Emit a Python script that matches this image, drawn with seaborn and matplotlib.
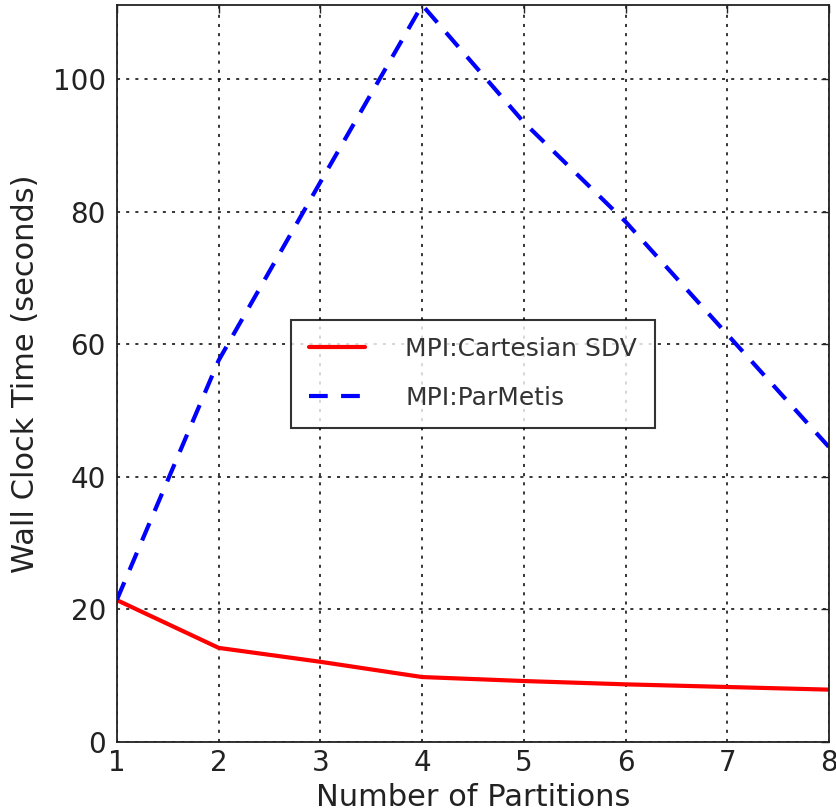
import numpy as np
import pandas as pd
import seaborn as sns
import matplotlib
matplotlib.use('Agg')
import matplotlib.pyplot as plt

# data
partitions = [1, 2, 3, 4, 5, 6, 7, 8]
cartesian_sdv = [21.4, 14.2, 12.1, 9.8, 9.2, 8.7, 8.3, 7.9]
parmetis = [21.5, 57.6, 84.5, 111.2, 93.5, 78.5, 61.5, 44.5]
series_names = ['MPI:Cartesian SDV', 'MPI:ParMetis']

df = pd.DataFrame({
    'partitions': partitions * 2,
    'time': cartesian_sdv + parmetis,
    'method': [series_names[0]] * len(partitions) + [series_names[1]] * len(partitions),
})

sns.set_style('white')
plt.rcParams['font.family'] = ['DejaVu Sans']

fig = plt.figure(figsize=(8.36, 8.11), dpi=100)
ax = fig.add_axes([117 / 836, 1 - 742 / 811, 712 / 836, 737 / 811])

sns.lineplot(data=df, x='partitions', y='time', hue='method', style='method',
             palette={series_names[0]: '#ff0000', series_names[1]: '#0000ff'},
             dashes={series_names[0]: '', series_names[1]: (4.5, 3.2)},
             linewidth=3, ax=ax)

ax.set_xlim(1, 8)
ax.set_ylim(0, max(parmetis))
ax.set_yticks([0, 20, 40, 60, 80, 100])
ax.set_xticks(partitions)
ax.grid(True, color='black', linestyle=(0, (2, 4)), linewidth=1.1)
ax.tick_params(direction='in', top=True, right=True, length=6, width=1,
               labelsize=20, colors='#222222')
ax.tick_params(axis='x', pad=5)
ax.tick_params(axis='y', pad=8)
for s in ax.spines.values():
    s.set_color('#222222')
    s.set_linewidth(1.3)

ax.set_xlabel('Number of Partitions', fontsize=22, color='#222222', labelpad=4)
ax.set_ylabel('Wall Clock Time (seconds)', fontsize=22, color='#222222', labelpad=9)

leg = ax.legend(loc='center', fontsize=18, frameon=True, fancybox=False,
                handlelength=2.25, handletextpad=1.6, borderpad=0.7,
                labelspacing=1.0, borderaxespad=0)
leg.get_frame().set_edgecolor('black')
leg.get_frame().set_linewidth(1.5)
for t in leg.get_texts():
    t.set_color('#333333')

fig.savefig('out.png', dpi=100)
